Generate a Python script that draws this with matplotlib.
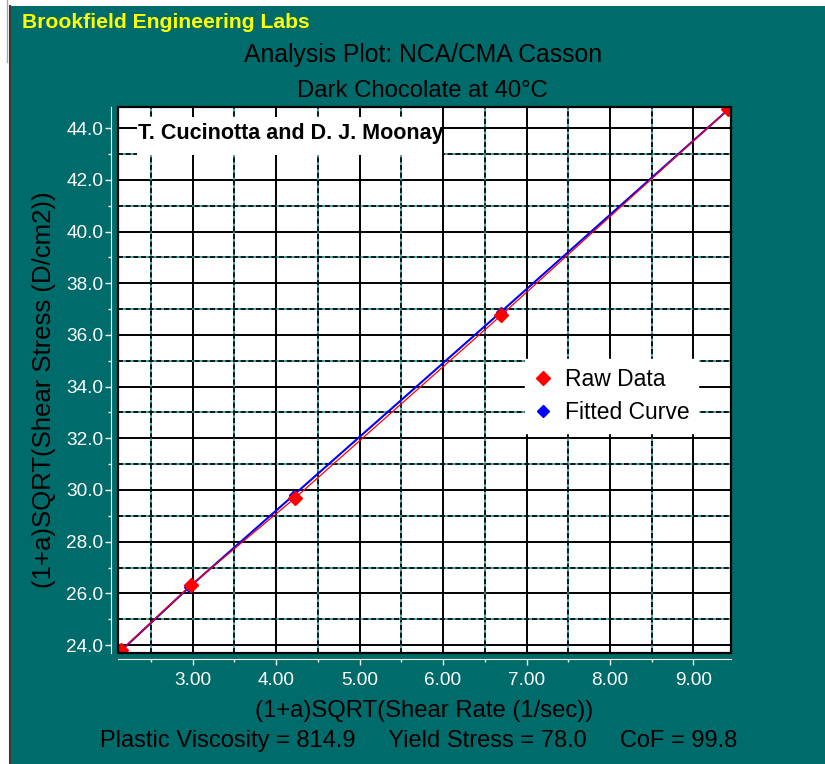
import numpy as np
import matplotlib
matplotlib.use("Agg")
import matplotlib.pyplot as plt
from matplotlib.patches import Rectangle
from matplotlib.lines import Line2D

plt.rcParams['font.family'] = ['Liberation Sans', 'DejaVu Sans']

TEAL = "#006B6B"

# data
raw_x = [2.14, 2.98, 4.23, 6.70, 9.42]
raw_y = [23.79, 26.32, 29.70, 36.77, 44.74]
fit_x = [2.14, 2.96, 4.21, 6.69, 9.42]
fit_y = [23.77, 26.24, 29.80, 36.88, 44.73]

x_major = [3, 4, 5, 6, 7, 8, 9]
x_minor = [2.5, 3.5, 4.5, 5.5, 6.5, 7.5, 8.5]
y_major = [24, 26, 28, 30, 32, 34, 36, 38, 40, 42, 44]
y_minor = [25, 27, 29, 31, 33, 35, 37, 39, 41, 43]
x_ticklabels = ["3.00", "4.00", "5.00", "6.00", "7.00", "8.00", "9.00"]
y_ticklabels = ["24.0", "26.0", "28.0", "30.0", "32.0", "34.0", "36.0",
                "38.0", "40.0", "42.0", "44.0"]

W, H = 825, 764
fig = plt.figure(figsize=(W / 100, H / 100), dpi=100)
fig.patch.set_facecolor("white")

# teal panel with the window border on the left
fig.patches.append(Rectangle((11 / W, 0), 1 - 11 / W, 1 - 6 / H, transform=fig.transFigure,
                             facecolor=TEAL, edgecolor="none", zorder=-10))
fig.lines.append(Line2D([10 / W, 10 / W], [0, 1 - 6 / H], transform=fig.transFigure,
                        color="#3a3a3a", lw=1.5, zorder=-5))
fig.lines.append(Line2D([7.3 / W, 7.3 / W], [1, 1 - 62 / H], transform=fig.transFigure,
                        color="#a8a8a8", lw=1.0, zorder=-5))

ax = fig.add_axes([117.5 / W, 1 - 653.3 / H, 613.5 / W, 546 / H])
ax.set_facecolor("white")
ax.set_xlim(2.1, 9.45)
ax.set_ylim(23.68, 44.81)

# grid: solid black at major, teal/black dashed at minor
for x in x_major:
    ax.axvline(x, color="black", lw=1.4, zorder=1)
for y in y_major:
    ax.axhline(y, color="black", lw=1.4, zorder=1)
for x in x_minor:
    ax.axvline(x, color="#2a9a9a", lw=1.2, zorder=1)
    ax.axvline(x, color="black", lw=1.2, ls=(0, (3, 1.6)), zorder=1)
for y in y_minor:
    ax.axhline(y, color="#2a9a9a", lw=1.2, zorder=1)
    ax.axhline(y, color="black", lw=1.2, ls=(0, (3, 1.6)), zorder=1)

ax.plot(fit_x, fit_y, color="blue", lw=1.5, marker="D", ms=5.5, zorder=3)
ax.plot(raw_x, raw_y, color="red", lw=0.9, marker="D", ms=7.5, zorder=4)

ax.add_patch(Rectangle((0, 0), 1, 1, transform=ax.transAxes, fill=False,
                       edgecolor="black", lw=1.6, zorder=6, clip_on=False))

# author box
ax.add_patch(Rectangle((0.0318, 0.9126), 0.497, 0.0694, transform=ax.transAxes,
                       facecolor="white", edgecolor="none", zorder=5))
ax.text(0.0334, 0.942, "T. Cucinotta and D. J. Moonay", transform=ax.transAxes,
        fontsize=15.5, fontweight="bold", va="baseline", ha="left", zorder=7)

# axes in white, offset from the frame
for side in ["top", "right"]:
    ax.spines[side].set_visible(False)
ax.spines["left"].set_position(("outward", 4.7))
ax.spines["bottom"].set_position(("outward", 4.0))
ax.spines["left"].set_color("white")
ax.spines["bottom"].set_color("white")
ax.set_xticks(x_major)
ax.set_xticklabels(x_ticklabels)
ax.set_xticks(x_minor, minor=True)
ax.set_yticks(y_major)
ax.set_yticklabels(y_ticklabels)
ax.set_yticks(y_minor, minor=True)
ax.tick_params(which="major", colors="white", length=4.5, width=1, labelsize=13.7)
ax.tick_params(which="minor", colors="white", length=2.5, width=1)
ax.tick_params(axis="x", which="major", pad=5)
ax.tick_params(axis="y", which="major", pad=1)

handles = [Line2D([], [], ls="none", marker="D", color="red", ms=7),
           Line2D([], [], ls="none", marker="D", color="blue", ms=6)]
leg = ax.legend(handles, ["Raw Data", "Fitted Curve"], loc="upper left",
                bbox_to_anchor=(0.665, 0.539), borderaxespad=0, fontsize=16.5,
                fancybox=False, framealpha=1, edgecolor="white", handlelength=0.8,
                handletextpad=0.55, labelspacing=0.45, borderpad=0.38, numpoints=1)
leg.set_zorder(8)

fig.text(22 / W, 1 - 28 / H, "Brookfield Engineering Labs", color="#ffff00",
         fontsize=15.2, fontweight="bold", va="baseline", ha="left")
fig.text(423 / W, 1 - 61.7 / H, "Analysis Plot: NCA/CMA Casson", fontsize=17.8,
         va="baseline", ha="center")
fig.text(422 / W, 1 - 96.7 / H, "Dark Chocolate at 40°C", fontsize=17.2,
         va="baseline", ha="center")
fig.text(424 / W, 1 - 716.7 / H, "(1+a)SQRT(Shear Rate (1/sec))", fontsize=17.2,
         va="baseline", ha="center")
fig.text(419 / W, 1 - 746.7 / H,
         "Plastic Viscosity = 814.9     Yield Stress = 78.0     CoF = 99.8",
         fontsize=17, va="baseline", ha="center")
fig.text(44 / W, 1 - 390 / H, "(1+a)SQRT(Shear Stress (D/cm2))", fontsize=18.5,
         rotation=90, va="center", ha="center")

fig.savefig("out.png", dpi=100, facecolor=fig.get_facecolor())
